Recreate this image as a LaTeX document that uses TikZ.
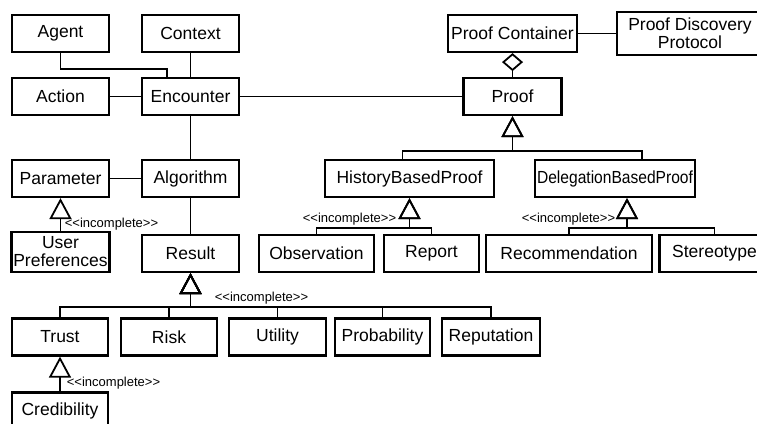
\documentclass[tikz,border=0pt]{standalone}
\usepackage{fontspec}
\setmainfont{Liberation Sans}
\usetikzlibrary{arrows.meta}

\tikzset{every picture/.style={line width=1.8pt}}
\tikzset{
	cls/.style={draw, line width=2.2pt, minimum height=37pt, inner sep=0pt, align=center, font=\fontsize{17.5}{18}\selectfont},
	stereo/.style={inner sep=1pt, font=\fontsize{13}{14}\selectfont},
	gen/.style={-{Triangle[open,length=21pt,width=22pt]}},
	aggr/.style={{Diamond[open,length=18pt,width=21pt]}-}
}

\begin{document}
\begin{tikzpicture}[x=1pt,y=1pt,yscale=-1,xscale=1]
	\useasboundingbox (0,0) rectangle (757,423);
	
	% Classes
	\node [cls, minimum width=97pt] (agent) at (60.5,33.5) {Agent};
	\node [cls, minimum width=97pt] (context) at (190.5,33.5) {Context};
	\node [cls, minimum width=97pt] (action) at (60.5,96.5) {Action};
	\node [cls, minimum width=97pt] (encounter) at (190.5,96.5) {Encounter};
	\node [cls, minimum width=129pt] (pcont) at (512.5,33.5) {Proof Container};
	\node [cls, minimum width=146pt, minimum height=43pt] (pdp) at (690,33.5) {Proof Discovery\\Protocol};
	\node [cls, minimum width=98pt] (proof) at (512.5,96.5) {Proof};
	\node [cls, minimum width=97pt] (parameter) at (60.5,178.5) {Parameter};
	\node [cls, minimum width=97pt] (algorithm) at (190.5,178.5) {Algorithm};
	\node [cls, minimum width=169pt] (hbp) at (409.5,178.5) {HistoryBasedProof};
	\node [cls, minimum width=160pt] (dbp) at (615,178.5) {\scalebox{0.89}[1]{DelegationBasedProof}};
	\node [cls, minimum width=98pt, minimum height=40pt] (userpref) at (60.5,252) {User\\Preferences};
	\node [cls, minimum width=97pt] (result) at (190.5,253.5) {Result};
	\node [cls, minimum width=115pt] (observation) at (316.5,253.5) {Observation};
	\node [cls, minimum width=95pt] (report) at (431.5,253.5) {Report};
	\node [cls, minimum width=166pt] (recommendation) at (569,253.5) {Recommendation};
	\node [cls, minimum width=110pt] (stereotype) at (714.5,253.5) {Stereotype};
	\node [cls, minimum width=96pt] (trust) at (60,337) {Trust};
	\node [cls, minimum width=96pt] (risk) at (169,337) {Risk};
	\node [cls, minimum width=97pt] (utility) at (277.5,337) {Utility};
	\node [cls, minimum width=95pt] (probability) at (382.5,337) {Probability};
	\node [cls, minimum width=98pt] (reputation) at (491,337) {Reputation};
	\node [cls, minimum width=96pt] (credibility) at (60,411) {Credibility};
	
	% Bends and buses
	\coordinate (agentbend) at (167,69);
	\coordinate (proofbus) at (512.5,151);
	\coordinate (hbpbus) at (409.5,228);
	\coordinate (dbpbus) at (627,228);
	\coordinate (resbus) at (190.5,307);
	
	% Associations
	\draw (agent.south) |- (agentbend) -- (agentbend |- encounter.north);
	\draw (context) -- (encounter);
	\draw (action) -- (encounter);
	\draw (encounter) -- (proof);
	\draw (encounter) -- (algorithm);
	\draw (parameter) -- (algorithm);
	\draw (algorithm) -- (result);
	\draw (pcont) -- (pdp);
	\draw [aggr] (pcont.south) -- (proof.north);
	
	% Generalizations
	\draw [gen] ([xshift=-7pt]hbp.north) |- (proofbus) -- (proof.south);
	\draw [gen] ([xshift=27pt]dbp.north) |- (proofbus) -- (proof.south);
	\foreach \c in {observation,report}
		\draw [gen] (\c.north) |- (hbpbus) -- (hbp.south);
	\foreach \c in {recommendation,stereotype}
		\draw [gen] (\c.north) |- (dbpbus) -- (dbpbus |- dbp.south);
	\foreach \c in {trust,risk,utility,probability,reputation}
		\draw [gen] (\c.north) |- (resbus) -- (result.south);
	\draw [gen] (userpref.north) -- (parameter.south);
	\draw [gen] (credibility.north) -- (trust.south);
	
	% Text Node
	\node [stereo, anchor=west] (upnote) at (63,224) {<\kern0pt<incomplete>\kern0pt>};
	\node [stereo, anchor=east] (hbpnote) at (398,219) {<\kern0pt<incomplete>\kern0pt>};
	\node [stereo, anchor=east] (dbpnote) at (617,219) {<\kern0pt<incomplete>\kern0pt>};
	\node [stereo, anchor=west] (resnote) at (213,298) {<\kern0pt<incomplete>\kern0pt>};
	\node [stereo, anchor=west] (trustnote) at (65,383) {<\kern0pt<incomplete>\kern0pt>};
	
\end{tikzpicture}
\end{document}
